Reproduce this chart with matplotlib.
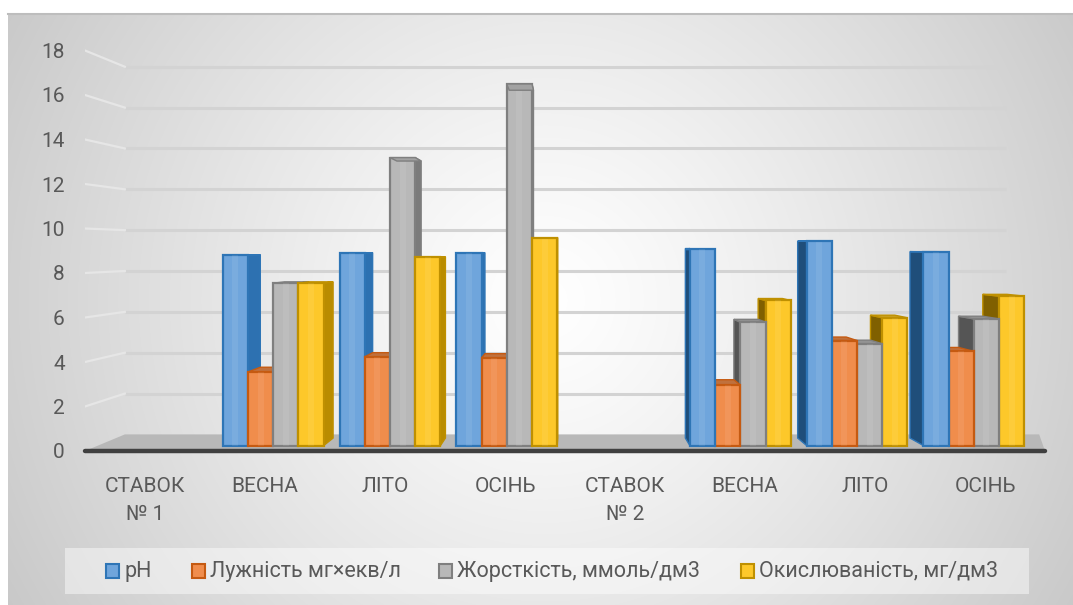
import numpy as np
import matplotlib
matplotlib.use("Agg")
import matplotlib.pyplot as plt
from matplotlib.patches import Polygon, Rectangle

# ---- data -------------------------------------------------------------
categories = ["СТАВОК\n№ 1", "ВЕСНА", "ЛІТО", "ОСІНЬ",
              "СТАВОК\n№ 2", "ВЕСНА", "ЛІТО", "ОСІНЬ"]
series_names = ["pH", "Лужність мг×екв/л",
                "Жорсткість, ммоль/дм3", "Окислюваність, мг/дм3"]
ph = [np.nan, 8.8, 8.9, 8.9, np.nan, 9.1, 9.45, 8.95]
alkalinity = [np.nan, 3.4, 4.1, 4.05, np.nan, 2.8, 4.85, 4.35]
hardness = [np.nan, 7.5, 13.3, 16.7, np.nan, 5.7, 4.7, 5.85]
oxidability = [np.nan, 7.5, 8.7, 9.6, np.nan, 6.7, 5.9, 6.9]
y_ticks = list(range(0, 20, 2))

# ---- styling ----------------------------------------------------------
plt.rcParams["font.family"] = ["Roboto", "DejaVu Sans"]
TEXT = "#595959"
face_colors = ["#6fa5dc", "#f08d4c", "#b8b8b8", "#fdc82a"]
edge_colors = ["#2e75b6", "#c55a11", "#7f7f7f", "#bf9000"]


def shade(hex_color, f):
    c = np.array(matplotlib.colors.to_rgb(hex_color))
    return tuple(np.clip(c * f, 0, 1))


W, H = 1073, 605
fig = plt.figure(figsize=(W / 100, H / 100), dpi=100)

# chart area with a soft radial gradient
bg = fig.add_axes([0, 0, 1, 1])
bg.set_xlim(0, W)
bg.set_ylim(H, 0)
bg.axis("off")
yy, xx = np.mgrid[13:H, 8:W]
r = np.sqrt(((xx - 545) / 560.0) ** 2 + ((yy - 300) / 560.0) ** 2)
val = np.clip(1.0 - 0.19 * r ** 1.2, 0, 1)
img = np.dstack([val, val, val])
bg.imshow(img, extent=[8, W, H, 13], aspect="auto", zorder=0)
bg.plot([8, W], [13.5, 13.5], color="#bdbdbd", lw=1.5, zorder=1)

# plot axes: x in category units, y in value units on the front plane
x0_px, x1_px = 85, 1045
y0_px = 451
px_per_unit = 22.25
v_top = 18.5
ax = fig.add_axes([x0_px / W, (H - y0_px) / H,
                   (x1_px - x0_px) / W, v_top * px_per_unit / H])
ax.set_xlim(-0.5, len(categories) - 0.5)
ax.set_ylim(0, v_top)
ax.patch.set_visible(False)
for s in ax.spines.values():
    s.set_visible(False)

# simple perspective: depth d in [0, 1] shrinks toward a vanishing point
UC, VC = 3.55, 9.1
SHRINK = 0.082


def proj(u, v, d):
    s = 1 - SHRINK * d
    return (UC + (u - UC) * s, VC + (v - VC) * s)


u_lo, u_hi = -0.5, len(categories) - 0.5

# floor
floor = Polygon([proj(u_lo, 0, 0), proj(u_hi, 0, 0),
                 proj(u_hi + 0.3, 0, 1), proj(u_lo, 0, 1)],
                closed=True, facecolor="#b8b8b8", edgecolor="none", zorder=1)
ax.add_patch(floor)

# gridlines on the back wall and the left wall
for t in y_ticks[1:]:
    a, b = proj(u_lo, t, 1), proj(u_hi, t, 1)
    ax.plot([a[0], b[0]], [a[1], b[1]], color="#d3d3d3", lw=2.2,
            solid_capstyle="butt", zorder=1)
    c = proj(u_lo, t, 0)
    ax.plot([c[0], a[0]], [c[1], a[1]], color="#e6e6e6", lw=1.6, zorder=1)

# bars
series = [ph, alkalinity, hardness, oxidability]
BAR_W = 0.216
D_FRONT, D_BACK = 0.33, 0.78
bars = []
n_series = len(series)
for j, vals in enumerate(series):
    for i, v in enumerate(vals):
        if np.isnan(v):
            continue
        u0 = i + (j - n_series / 2) * BAR_W
        bars.append((u0, u0 + BAR_W, v, j))
bars.sort(key=lambda b: -abs((b[0] + b[1]) / 2 - UC))

z = 3
for u0, u1, v, j in bars:
    fc, ec = face_colors[j], edge_colors[j]
    left_of_center = (u0 + u1) / 2 < UC
    us = u1 if left_of_center else u0
    side_f = 0.72 if left_of_center else 0.42
    side = Polygon([proj(us, 0, D_FRONT), proj(us, 0, D_BACK),
                    proj(us, v, D_BACK), proj(us, v, D_FRONT)], closed=True,
                   facecolor=shade(ec, side_f + 0.25), edgecolor=ec,
                   lw=1.0, zorder=z)
    above_eye = v > VC
    top = Polygon([proj(u0, v, D_FRONT), proj(u1, v, D_FRONT),
                   proj(u1, v, D_BACK), proj(u0, v, D_BACK)], closed=True,
                  facecolor=shade(fc, 0.88 if above_eye else 0.8),
                  edgecolor=ec, lw=1.0,
                  zorder=z + (2 if above_eye else 0))
    front = Polygon([proj(u0, 0, D_FRONT), proj(u1, 0, D_FRONT),
                     proj(u1, v, D_FRONT), proj(u0, v, D_FRONT)], closed=True,
                    facecolor=fc, edgecolor=ec, lw=1.6, zorder=z + 1)
    # soft vertical highlight on the front face
    hx0, hx1 = u0 + 0.38 * BAR_W, u0 + 0.62 * BAR_W
    hl = Polygon([proj(hx0, 0, D_FRONT), proj(hx1, 0, D_FRONT),
                  proj(hx1, v, D_FRONT), proj(hx0, v, D_FRONT)], closed=True,
                 facecolor="white", alpha=0.08, edgecolor="none", zorder=z + 1)
    for p in (side, top, front, hl):
        ax.add_patch(p)
    z += 3

# front edge of the floor
ax.plot([u_lo, u_hi], [0, 0], color="#404040", lw=3.2,
        solid_capstyle="round", clip_on=False, zorder=z + 1)

# axes labels
ax.set_yticks(y_ticks)
ax.set_yticklabels([str(t) for t in y_ticks])
ax.set_xticks(range(len(categories)))
ax.set_xticklabels(categories, linespacing=1.65)
ax.tick_params(axis="y", length=0, pad=14.5, labelsize=15, labelcolor=TEXT)
ax.tick_params(axis="x", length=0, pad=18.5, labelsize=15, labelcolor=TEXT)

# legend band
bg.add_patch(Rectangle((65, 548), 964, 46, facecolor="white", alpha=0.45,
                       edgecolor="none", zorder=2))
leg_x = [106, 192, 439, 741]
for j, name in enumerate(series_names):
    bg.add_patch(Rectangle((leg_x[j], 564), 13, 14, facecolor=face_colors[j],
                           edgecolor=edge_colors[j], lw=1.5, zorder=3))
    bg.text(leg_x[j] + 18, 571, name, fontsize=15.5, color=TEXT,
            va="center", ha="left", zorder=3)

fig.savefig("out.png", dpi=100)
